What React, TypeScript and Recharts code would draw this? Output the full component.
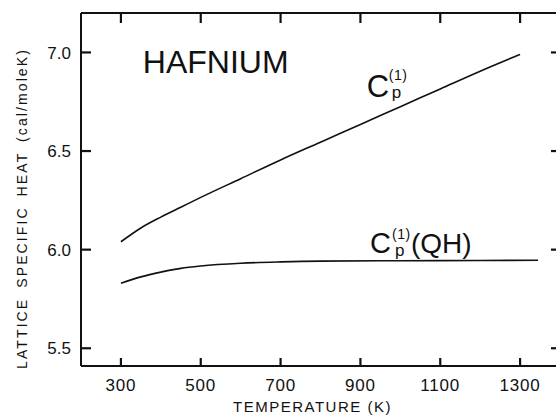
import React from 'react';
import { LineChart, Line, XAxis, YAxis, ReferenceDot } from 'recharts';

const FONT = '"Liberation Sans", Arial, Helvetica, sans-serif';
const INK = '#111111';

// Temperature ticks (K) and heat ticks (cal/mole K)
const xTicks = [300, 500, 700, 900, 1100, 1300];
const yTicks = [5.5, 6.0, 6.5, 7.0];
const xDomain = [200, 1400];
const yDomain = [5.41, 7.2];

// C_p^(1) curve
const upperT = [300, 350, 400, 450, 500, 600, 700, 800, 900, 1000, 1100, 1200, 1300];
const upperCp = [6.04, 6.11, 6.165, 6.215, 6.265, 6.36, 6.455, 6.545, 6.635, 6.725, 6.815, 6.905, 6.99];

// C_p^(1)(QH) curve
const lowerT = [300, 350, 400, 450, 500, 600, 700, 800, 1000, 1200, 1345];
const lowerCp = [5.83, 5.862, 5.886, 5.905, 5.917, 5.931, 5.938, 5.942, 5.944, 5.945, 5.946];

const upperData = upperT.map((t, i) => ({ t, v: upperCp[i] }));
const lowerData = lowerT.map((t, i) => ({ t, v: lowerCp[i] }));

const LeftTick = (props: any) => {
  const { x, y, payload } = props;
  return (
    <text x={x} y={y} dy="0.36em" textAnchor="end" fontSize={17} fontFamily={FONT} fill={INK}>
      {Number(payload.value).toFixed(1)}
    </text>
  );
};

const BottomTick = (props: any) => {
  const { x, y, payload } = props;
  return (
    <text x={x} y={y} textAnchor="middle" fontSize={17} fontFamily={FONT} fill={INK} letterSpacing={0.8}>
      {String(payload.value)}
    </text>
  );
};

const NoLabel = () => <g />;

const XTitle = (props: any) => {
  const vb = props.viewBox || { x: 81, y: 366, width: 479, height: 51 };
  return (
    <text
      x={vb.x + vb.width / 2 - 8}
      y={vb.y + 46}
      textAnchor="middle"
      fontSize={15}
      fontFamily={FONT}
      fill={INK}
      letterSpacing={1.5}
    >
      TEMPERATURE (K)
    </text>
  );
};

const YTitle = (props: any) => {
  const vb = props.viewBox || { x: 0, y: 13, width: 81, height: 353 };
  const cx = vb.x + 22;
  const cy = vb.y + vb.height / 2 + 19;
  return (
    <text
      x={cx}
      y={cy}
      transform={`rotate(-90, ${cx}, ${cy})`}
      textAnchor="middle"
      dominantBaseline="central"
      fontSize={14}
      fontFamily={FONT}
      fill={INK}
      letterSpacing={2.1}
      wordSpacing={4}
    >
      LATTICE SPECIFIC HEAT (cal/moleK)
    </text>
  );
};

const HafniumLabel = (props: any) => {
  const { cx, cy } = props;
  return (
    <text x={cx} y={cy} fontSize={32} fontFamily={FONT} fill={INK}>
      HAFNIUM
    </text>
  );
};

const UpperLabel = (props: any) => {
  const { cx, cy } = props;
  return (
    <g fill={INK} fontFamily={FONT}>
      <text x={cx} y={cy} fontSize={31}>C</text>
      <text x={cx + 22} y={cy - 17} fontSize={14} letterSpacing={0.5}>(1)</text>
      <text x={cx + 25} y={cy + 1} fontSize={17}>p</text>
    </g>
  );
};

const LowerLabel = (props: any) => {
  const { cx, cy } = props;
  return (
    <g fill={INK} fontFamily={FONT}>
      <text x={cx} y={cy} fontSize={29}>C</text>
      <text x={cx + 22} y={cy - 14} fontSize={14} letterSpacing={0.5}>(1)</text>
      <text x={cx + 25} y={cy + 3} fontSize={17}>p</text>
      <text x={cx + 41} y={cy} fontSize={28}>(QH)</text>
    </g>
  );
};

const tickStyle = { stroke: INK, strokeWidth: 2.2 };

export default function App() {
  return (
    <div
      style={{
        position: 'absolute',
        left: 0,
        top: 0,
        width: 556,
        height: 417,
        overflow: 'hidden',
        background: '#fff',
      }}
    >
      <LineChart width={600} height={417} margin={{ top: 0, right: 0, bottom: 0, left: 0 }}>
        <XAxis
          xAxisId={0}
          dataKey="t"
          type="number"
          domain={xDomain}
          ticks={xTicks}
          allowDataOverflow
          height={51}
          mirror={false}
          tickSize={-8}
          tickMargin={33}
          tickLine={tickStyle}
          axisLine={{ stroke: INK, strokeWidth: 2 }}
          tick={<BottomTick />}
          label={<XTitle />}
        />
        <XAxis
          xAxisId="top"
          orientation="top"
          dataKey="t"
          type="number"
          domain={xDomain}
          ticks={xTicks}
          allowDataOverflow
          height={13}
          tickSize={-10}
          tickLine={tickStyle}
          tick={<NoLabel />}
          axisLine={{ stroke: INK, strokeWidth: 1.8 }}
        />
        <YAxis
          yAxisId={0}
          type="number"
          domain={yDomain}
          ticks={yTicks}
          allowDataOverflow
          width={81}
          tickSize={-10}
          tickMargin={20}
          tickLine={tickStyle}
          axisLine={{ stroke: INK, strokeWidth: 2 }}
          tick={<LeftTick />}
          label={<YTitle />}
        />
        <YAxis
          yAxisId="right"
          orientation="right"
          type="number"
          domain={yDomain}
          ticks={yTicks}
          allowDataOverflow
          width={40}
          tickSize={-9}
          tickLine={tickStyle}
          tick={<NoLabel />}
          axisLine={{ stroke: INK, strokeWidth: 2 }}
        />
        <Line
          data={upperData}
          dataKey="v"
          type="monotone"
          stroke={INK}
          strokeWidth={1.6}
          dot={false}
          activeDot={false}
          isAnimationActive={false}
        />
        <Line
          data={lowerData}
          dataKey="v"
          type="monotone"
          stroke={INK}
          strokeWidth={1.6}
          dot={false}
          activeDot={false}
          isAnimationActive={false}
        />
        <ReferenceDot x={355} y={6.896} r={0} shape={<HafniumLabel />} />
        <ReferenceDot x={916} y={6.774} r={0} shape={<UpperLabel />} />
        <ReferenceDot x={924} y={5.983} r={0} shape={<LowerLabel />} />
      </LineChart>
    </div>
  );
}
